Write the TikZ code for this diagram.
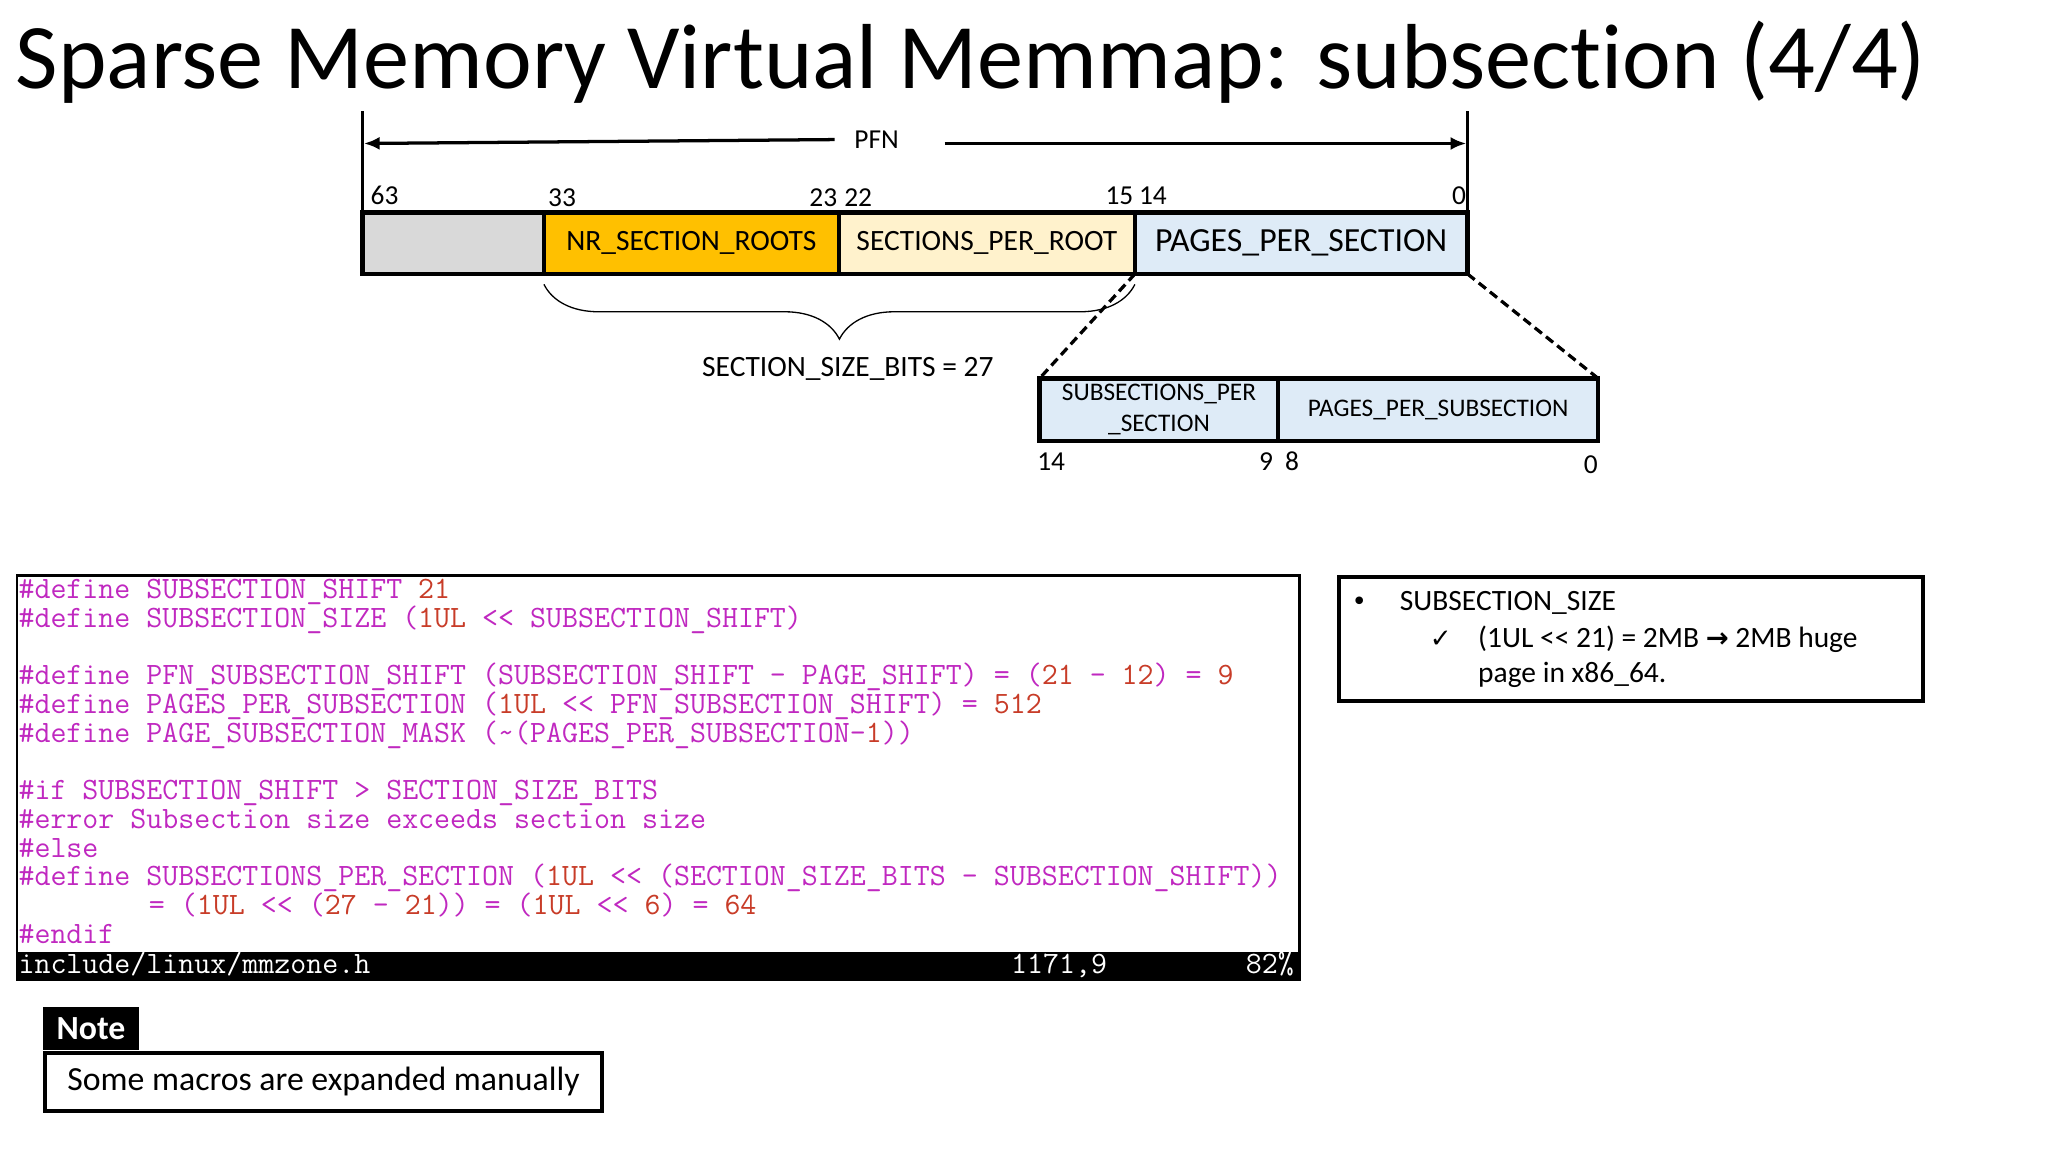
\documentclass[tikz,border=0pt]{standalone}
\usepackage{fontspec}
\usepackage{xcolor}
\setmainfont{Carlito}[Ligatures={TeX,NoCommon}]
\newfontfamily\symfont{DejaVu Sans}
\usetikzlibrary{positioning,arrows.meta,decorations.pathreplacing}

\definecolor{graycol}{HTML}{D9D9D9}
\definecolor{rootcol}{HTML}{FFC000}
\definecolor{sprcol}{HTML}{FFF2CC}
\definecolor{ppscol}{HTML}{DEEBF7}
\definecolor{codemag}{RGB}{192,40,192}
\definecolor{codenum}{RGB}{200,60,40}
\newcommand\cnum[1]{\textcolor{codenum}{#1}}

\begin{document}
\begin{tikzpicture}[x=1pt,y=-1pt,
  fld/.style = {draw, line width=3pt, inner sep=0pt, outer sep=0pt, minimum height=47pt, font=\fontsize{22.6}{27}\selectfont},
  sfld/.style = {fld, fill=ppscol, minimum height=48pt, font=\fontsize{19.4}{24}\selectfont},
  bit/.style = {font=\fontsize{21}{24}\selectfont, inner sep=0pt},
  code/.style = {font=\ttfamily\fontsize{23.8}{22}\selectfont, text=codemag, inner sep=0pt},
  stat/.style = {font=\ttfamily\fontsize{23.8}{22}\selectfont, text=white, inner sep=0pt},
  txt/.style = {font=\fontsize{22.6}{27}\selectfont, inner sep=0pt},
  zoomline/.style = {line width=2.5pt, dash pattern=on 7pt off 4pt},
  pfnarr/.style = {line width=2.5pt, -{Latex[length=12pt,width=10pt]}}]
\useasboundingbox (0,0) rectangle (1570,883);
\fill[white] (0,0) rectangle (1570,883);

\node[anchor=base west, inner sep=0pt, font=\fontsize{70.8}{80}\selectfont] (title) at (12,68) {Sparse Memory Virtual Memmap: subsection (4/4)};

% PFN bar
\node[fld, fill=graycol, minimum width=139pt, anchor=north west] (unused) at (278,163) {};
\node[fld, fill=rootcol, minimum width=226pt, right=0pt of unused] (roots) {NR\_SECTION\_ROOTS};
\node[fld, fill=sprcol, minimum width=227pt, right=0pt of roots] (spr) {SECTIONS\_PER\_ROOT};
\node[fld, fill=ppscol, minimum width=255pt, right=0pt of spr, font=\fontsize{25.9}{30}\selectfont] (pps) {PAGES\_PER\_SECTION};
\draw[line width=3.5pt] (unused.north west) rectangle (pps.south east);

\coordinate (vtl) at (278,85);
\coordinate (vtr) at (1125,85);
\coordinate (pl) at (279,110);
\coordinate (pr) at (1124,110);
\draw[line width=2pt] (unused.north west) -- (vtl);
\draw[line width=2pt] (pps.north east) -- (vtr);
\node[bit, inner xsep=15pt] (pfn) at (672,107) {PFN};
\draw[pfnarr] (pfn.west) -- (pl);
\draw[pfnarr] ([xshift=20pt]pfn.east |- pl) -- (pr);

\node[bit, anchor=base west] (b63) at (284,157) {63};
\node[bit, anchor=base west] (b33) at (420,158) {33};
\node[bit, anchor=base east] (b23) at (642,158) {23};
\node[bit, anchor=base west] (b22) at (647,158) {22};
\node[bit, anchor=base east] (b15) at (869,157) {15};
\node[bit, anchor=base west] (b14) at (873,157) {14};
\node[bit, anchor=base east] (b0) at (1124,157) {0};

% section size brace
\draw[line width=1pt, decorate, decoration={brace, mirror, amplitude=42pt, aspect=0.5}]
  ([yshift=-8pt]roots.south west) -- ([yshift=-8pt]spr.south east);
\node[txt] (ssb) at (650,283) {SECTION\_SIZE\_BITS = 27};

% subsection bar
\node[sfld, minimum width=183pt, anchor=north west, align=center] (sps) at (797,290) {SUBSECTIONS\_PER\\\_SECTION};
\node[sfld, minimum width=245pt, right=0pt of sps] (ppss) {PAGES\_PER\_SUBSECTION};
\draw[line width=3.5pt] (sps.north west) rectangle (ppss.south east);
\draw[zoomline] (pps.south west) -- (sps.north west);
\draw[zoomline] (pps.south east) -- (ppss.north east);

\node[bit, anchor=base west] (s14) at (795,361) {14};
\node[bit, anchor=base east] (s9) at (976,361) {9};
\node[bit, anchor=base west] (s8) at (985,361) {8};
\node[bit, anchor=base east] (s0) at (1225,363) {0};

% source listing
\node[draw, line width=2pt, minimum width=983pt, minimum height=310pt, anchor=north west, inner sep=0pt] (codebox) at (12,440) {};
\node[fill=black, minimum width=983pt, minimum height=22pt, anchor=south west, inner sep=0pt] (status) at (codebox.south west) {};
\node[code, anchor=base west] (l1) at (14,459) {\#define SUBSECTION\_SHIFT \cnum{21}};
\node[code, anchor=base west] (l2) at (14,481) {\#define SUBSECTION\_SIZE (\cnum{1UL} <{}< SUBSECTION\_SHIFT)};
\node[code, anchor=base west] (l3) at (14,525) {\#define PFN\_SUBSECTION\_SHIFT (SUBSECTION\_SHIFT - PAGE\_SHIFT) = (\cnum{21} - \cnum{12}) = \cnum{9}};
\node[code, anchor=base west] (l4) at (14,547) {\#define PAGES\_PER\_SUBSECTION (\cnum{1UL} <{}< PFN\_SUBSECTION\_SHIFT) = \cnum{512}};
\node[code, anchor=base west] (l5) at (14,569) {\#define PAGE\_SUBSECTION\_MASK (\textasciitilde(PAGES\_PER\_SUBSECTION-\cnum{1}))};
\node[code, anchor=base west] (l6) at (14,613) {\#if SUBSECTION\_SHIFT > SECTION\_SIZE\_BITS};
\node[code, anchor=base west] (l7) at (14,635) {\#error Subsection size exceeds section size};
\node[code, anchor=base west] (l8) at (14,657) {\#else};
\node[code, anchor=base west] (l9) at (14,679) {\#define SUBSECTIONS\_PER\_SECTION (\cnum{1UL} <{}< (SECTION\_SIZE\_BITS - SUBSECTION\_SHIFT))};
\node[code, anchor=base west] (l10) at (114,701) {= (\cnum{1UL} <{}< (\cnum{27} - \cnum{21})) = (\cnum{1UL} <{}< \cnum{6}) = \cnum{64}};
\node[code, anchor=base west] (l11) at (14,723) {\#endif};
\node[stat, anchor=base west] (fname) at (14,746) {include/linux/mmzone.h};
\node[stat, anchor=base west] (pos) at (775,746) {1171,9};
\node[stat, anchor=base east] (pct) at (992,746) {82\%};

% side note
\node[draw, line width=3pt, minimum width=448pt, minimum height=95pt, anchor=north west, inner sep=0pt] (info) at (1025,441) {};
\node[txt, anchor=base] (dot) at (1042,468) {\symfont\fontsize{20}{24}\selectfont •};
\node[txt, anchor=base west] (i1) at (1073,468) {SUBSECTION\_SIZE};
\node[txt, anchor=base west] (chk) at (1096,496) {\symfont\fontsize{20}{24}\selectfont ✓};
\node[txt, anchor=base west] (i2) at (1133,496) {(1UL <{}< 21) = 2MB {\symfont\bfseries\fontsize{21}{24}\selectfont →} 2MB huge};
\node[txt, anchor=base west] (i3) at (1133,523) {page in x86\_64.};

% note
\node[fill=black, text=white, minimum width=73pt, minimum height=33pt, anchor=north west, inner sep=0pt, font=\bfseries\fontsize{25.9}{30}\selectfont] (notetab) at (33,772) {Note};
\node[draw, line width=3pt, minimum width=427pt, minimum height=45pt, anchor=north west, inner sep=0pt, font=\fontsize{25.9}{30}\selectfont] (notebox) at (notetab.south west) {Some macros are expanded manually};
\end{tikzpicture}
\end{document}
